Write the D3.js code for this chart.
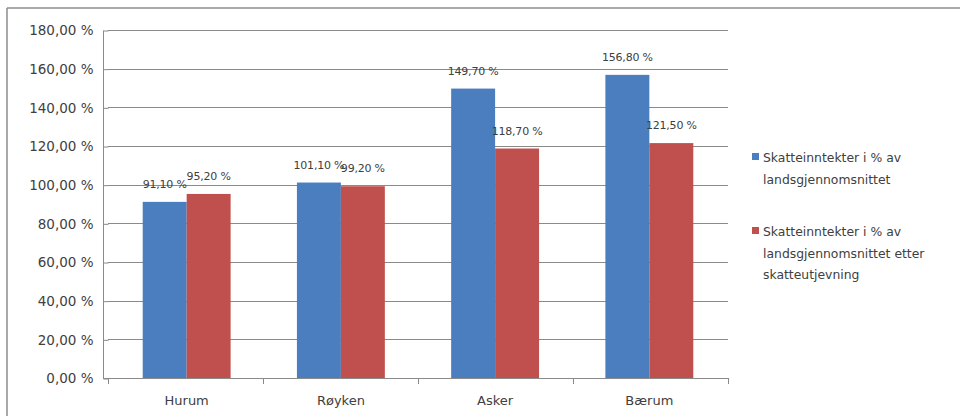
<!DOCTYPE html>
<html><head><meta charset="utf-8">
<script src="https://cdn.jsdelivr.net/npm/d3@7"></script>
<style>html,body{margin:0;padding:0;background:#fff}svg{display:block}</style>
</head><body>
<svg id="c" width="960" height="416"></svg>
<script>
const categories = ["Hurum", "Røyken", "Asker", "Bærum"];
const seriesNames = ["Skatteinntekter i % av landsgjennomsnittet", "Skatteinntekter i % av landsgjennomsnittet etter skatteutjevning"];
const seriesLegendLines = [["Skatteinntekter i % av", "landsgjennomsnittet"], ["Skatteinntekter i % av", "landsgjennomsnittet etter", "skatteutjevning"]];
const beforeValues = [91.1, 101.1, 149.7, 156.8];
const afterValues = [95.2, 99.2, 118.7, 121.5];
const yTicks = [0, 20, 40, 60, 80, 100, 120, 140, 160, 180];
const colors = ["#4a7ebf", "#c0504d"];

const fmt = v => v.toFixed(2).replace(".", ",") + " %";
const svg = d3.select("#c");

// outer border
svg.append("line").attr("x1", 7).attr("x2", 960).attr("y1", 8).attr("y2", 8).attr("stroke", "#8c8c8c").attr("stroke-width", 1.5);
svg.append("line").attr("x1", 7).attr("x2", 7).attr("y1", 8).attr("y2", 416).attr("stroke", "#8c8c8c").attr("stroke-width", 1.5);

const y = d3.scaleLinear().domain([0, 180]).range([378, 30]);
const x0 = d3.scaleBand().domain(categories).range([108, 728]).paddingInner(0.43).paddingOuter(0.225);
const x1 = d3.scaleBand().domain([0, 1]).range([0, x0.bandwidth()]);

// gridlines
svg.append("g").selectAll("line").data(yTicks.filter(t => t > 0)).join("line")
  .attr("x1", 108).attr("x2", 728).attr("y1", d => Math.round(y(d)) + 0.5).attr("y2", d => Math.round(y(d)) + 0.5)
  .attr("stroke", "#8a8a8a").attr("stroke-width", 1);

// y axis
const yAxis = d3.axisLeft(y).tickValues(yTicks).tickFormat(fmt).tickSize(5).tickPadding(10);
const gy = svg.append("g").attr("transform", "translate(108.5,0.5)").call(yAxis);
gy.select(".domain").attr("stroke", "#8a8a8a").attr("d", "M-5,30V378");
gy.selectAll(".tick line").attr("stroke", "#8a8a8a");
gy.selectAll("text").attr("font-family", "DejaVu Sans").attr("font-size", 13.5).attr("fill", "#404040");

// bars
const data = categories.map((c, i) => ({c, v: [beforeValues[i], afterValues[i]]}));
const groups = svg.append("g").selectAll("g").data(data).join("g")
  .attr("transform", d => `translate(${x0(d.c)},0)`);
groups.selectAll("rect").data(d => d.v.map((v, k) => ({v, k}))).join("rect")
  .attr("x", d => x1(d.k)).attr("width", x1.bandwidth())
  .attr("y", d => y(d.v)).attr("height", d => y(0) - y(d.v))
  .attr("fill", d => colors[d.k]);
groups.selectAll("text").data(d => d.v.map((v, k) => ({v, k}))).join("text")
  .attr("x", d => x1(d.k) + x1.bandwidth() / 2).attr("y", d => y(d.v) - 14)
  .attr("text-anchor", "middle").attr("font-family", "DejaVu Sans").attr("font-size", 11)
  .attr("letter-spacing", -0.2)
  .attr("fill", "#404040").text(d => fmt(d.v));

// x axis
const xAxisG = svg.append("g");
xAxisG.append("line").attr("x1", 103).attr("x2", 728).attr("y1", 378.5).attr("y2", 378.5).attr("stroke", "#8a8a8a");
const bounds = d3.range(categories.length + 1).map(i => 108 + i * (620 / categories.length));
xAxisG.selectAll("line.t").data(bounds).join("line").attr("class", "t")
  .attr("x1", d => Math.round(d) + 0.5).attr("x2", d => Math.round(d) + 0.5).attr("y1", 378).attr("y2", 384).attr("stroke", "#8a8a8a");
xAxisG.selectAll("text").data(categories).join("text")
  .attr("x", d => x0(d) + x0.bandwidth() / 2).attr("y", 405)
  .attr("text-anchor", "middle").attr("font-family", "DejaVu Sans").attr("font-size", 13)
  .attr("fill", "#404040").text(d => d);

// legend
const legendTop = [157, 231];
const leg = svg.append("g");
seriesLegendLines.forEach((lines, k) => {
  leg.append("rect").attr("x", 752).attr("y", legendTop[k] - 4).attr("width", 7).attr("height", 7).attr("fill", colors[k]);
  leg.append("text").attr("x", 763).attr("y", legendTop[k] + 5)
    .attr("font-family", "DejaVu Sans").attr("font-size", 12.4).attr("fill", "#404040")
    .selectAll("tspan").data(lines).join("tspan")
    .attr("x", 763).attr("dy", (d, i) => i === 0 ? 0 : 21.5).text(d => d);
});
</script>
</body></html>
